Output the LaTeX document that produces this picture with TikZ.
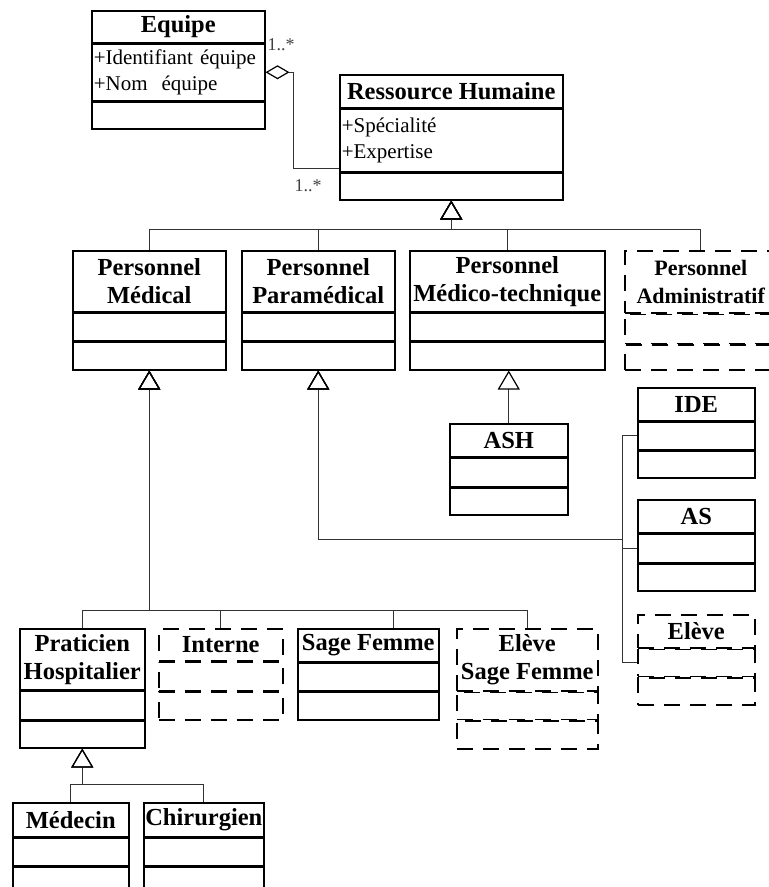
\documentclass[tikz,border=0pt]{standalone}
\usepackage{fontspec}
\setmainfont{Liberation Serif}
\usetikzlibrary{arrows.meta}

\begin{document}
\begin{tikzpicture}[
  x=1pt, y=-1pt,
  cls/.style={draw, line width=1.5pt, anchor=north west, inner sep=1.5pt,
              align=center, font=\fontsize{24.5}{28}\selectfont\bfseries},
  cmp/.style={draw, line width=1.5pt, anchor=north, inner sep=2pt,
              font=\fontsize{21}{26}\selectfont},
  dsh/.style={dash pattern=on 16pt off 10pt},
  inh/.style={line width=0.9pt, black!80,
              -{Triangle[open, length=19pt, width=22pt, line width=1.2pt, color=black]}},
  agg/.style={line width=0.9pt, black!80,
              {Diamond[open, length=24pt, width=14pt, line width=1.2pt, color=black]}-},
  mult/.style={font=\fontsize{18}{18}\selectfont, text=black!75, inner sep=0pt},
]
  \useasboundingbox (0,0) rectangle (769,887);
  \clip (0,0) rectangle (769,887);

  % Equipe
  \node[cls, minimum width=173pt, minimum height=32pt] (eq) at (91,10) {Equipe};
  \node[cmp, minimum width=173pt, minimum height=56pt, text width=169pt, align=left] (eq2) at (eq.south) {+Identifiant équipe\\+Nom\ \ équipe};
  \node[cmp, minimum width=173pt, minimum height=27pt] (eq3) at (eq2.south) {};

  % Ressource Humaine
  \node[cls, minimum width=223pt, minimum height=33pt] (rh) at (339,74) {Ressource Humaine};
  \node[cmp, minimum width=223pt, minimum height=62pt, text width=219pt, align=left] (rh2) at (rh.south) {+Spécialité\\+Expertise};
  \node[cmp, minimum width=223pt, minimum height=27pt] (rh3) at (rh2.south) {};

  % Personnel
  \node[cls, minimum width=153pt, minimum height=61pt] (pmed) at (72,250) {Personnel\\Médical};
  \node[cmp, minimum width=153pt, minimum height=27pt] (pmed2) at (pmed.south) {};
  \node[cmp, minimum width=153pt, minimum height=28pt] (pmed3) at (pmed2.south) {};

  \node[cls, minimum width=153pt, minimum height=61pt] (ppar) at (241,250) {Personnel\\Paramédical};
  \node[cmp, minimum width=153pt, minimum height=27pt] (ppar2) at (ppar.south) {};
  \node[cmp, minimum width=153pt, minimum height=28pt] (ppar3) at (ppar2.south) {};

  \node[cls, minimum width=195pt, minimum height=61pt] (pmt) at (409,250) {Personnel\\Médico-technique};
  \node[cmp, minimum width=195pt, minimum height=27pt] (pmt2) at (pmt.south) {};
  \node[cmp, minimum width=195pt, minimum height=28pt] (pmt3) at (pmt2.south) {};

  \node[cls, dsh, minimum width=152pt, minimum height=62pt,
        font=\fontsize{22}{28}\selectfont\bfseries] (padm) at (624,250) {Personnel\\Administratif};
  \node[cmp, dsh, minimum width=152pt, minimum height=29pt] (padm2) at (padm.south) {};
  \node[cmp, dsh, minimum width=152pt, minimum height=25pt] (padm3) at (padm2.south) {};

  % ASH
  \node[cls, minimum width=118pt, minimum height=33pt] (ash) at (449,423) {ASH};
  \node[cmp, minimum width=118pt, minimum height=28pt] (ash2) at (ash.south) {};
  \node[cmp, minimum width=118pt, minimum height=27pt] (ash3) at (ash2.south) {};

  % IDE, AS, Eleve
  \node[cls, minimum width=117pt, minimum height=33pt] (ide) at (637,387) {IDE};
  \node[cmp, minimum width=117pt, minimum height=27pt] (ide2) at (ide.south) {};
  \node[cmp, minimum width=117pt, minimum height=27pt] (ide3) at (ide2.south) {};

  \node[cls, minimum width=117pt, minimum height=33pt] (as) at (637,499) {AS};
  \node[cmp, minimum width=117pt, minimum height=28pt] (as2) at (as.south) {};
  \node[cmp, minimum width=117pt, minimum height=27pt] (as3) at (as2.south) {};

  \node[cls, dsh, minimum width=117pt, minimum height=33pt] (elv) at (637,614) {Elève};
  \node[cmp, dsh, minimum width=117pt, minimum height=27pt] (elv2) at (elv.south) {};
  \node[cmp, dsh, minimum width=117pt, minimum height=27pt] (elv3) at (elv2.south) {};

  % Medical staff
  \node[cls, minimum width=125pt, minimum height=61pt] (ph) at (19,628) {Praticien\\Hospitalier};
  \node[cmp, minimum width=125pt, minimum height=28pt] (ph2) at (ph.south) {};
  \node[cmp, minimum width=125pt, minimum height=27pt] (ph3) at (ph2.south) {};

  \node[cls, dsh, minimum width=124pt, minimum height=32pt] (int) at (158,628) {Interne};
  \node[cmp, dsh, minimum width=124pt, minimum height=28pt] (int2) at (int.south) {};
  \node[cmp, dsh, minimum width=124pt, minimum height=28pt] (int3) at (int2.south) {};

  \node[cls, minimum width=141pt, minimum height=33pt] (sf) at (297,628) {Sage Femme};
  \node[cmp, minimum width=141pt, minimum height=27pt] (sf2) at (sf.south) {};
  \node[cmp, minimum width=141pt, minimum height=28pt] (sf3) at (sf2.south) {};

  \node[cls, dsh, minimum width=141pt, minimum height=62pt] (esf) at (456,628) {Elève\\Sage Femme};
  \node[cmp, dsh, minimum width=141pt, minimum height=27pt] (esf2) at (esf.south) {};
  \node[cmp, dsh, minimum width=141pt, minimum height=28pt] (esf3) at (esf2.south) {};

  % Praticien
  \node[cls, minimum width=116pt, minimum height=34pt] (med) at (12,802) {Médecin};
  \node[cmp, minimum width=116pt, minimum height=27pt] (med2) at (med.south) {};
  \node[cmp, minimum width=116pt, minimum height=27pt] (med3) at (med2.south) {};

  \node[cls, minimum width=120pt, minimum height=34pt] (chir) at (143,802) {Chirurgien};
  \node[cmp, minimum width=120pt, minimum height=27pt] (chir2) at (chir.south) {};
  \node[cmp, minimum width=120pt, minimum height=27pt] (chir3) at (chir2.south) {};

  % Aggregation
  \draw[agg] (eq2.east) -- ++(28,0) |- ([yshift=4pt]rh2.south west);
  \node[mult] (m1) at (281,45) {1..*};
  \node[mult] (m2) at (308,186) {1..*};

  % Generalisations
  \draw[inh] (pmed.north) -- ++(0,-21) -| (rh3.south);
  \draw[inh] (ppar.north) -- ++(0,-21) -| (rh3.south);
  \draw[inh] (pmt.north) -- ++(0,-21) -| (rh3.south);
  \draw[inh] (padm.north) -- ++(0,-21) -| (rh3.south);

  \draw[inh] (ash.north) -- (ash.north |- pmt3.south);

  \coordinate (jn) at (622,539);
  \draw[inh] (ide2.west) -| (jn) -| (ppar3.south);
  \draw[inh] (as2.west) -| (jn) -| (ppar3.south);
  \draw[inh] (elv2.west) -| (jn) -| (ppar3.south);

  \draw[inh] (ph.north) -- ++(0,-18) -| (pmed3.south);
  \draw[inh] (int.north) -- ++(0,-18) -| (pmed3.south);
  \draw[inh] ([xshift=25pt]sf.north) -- ++(0,-18) -| (pmed3.south);
  \draw[inh] (esf.north) -- ++(0,-18) -| (pmed3.south);

  \draw[inh] (med.north) -- ++(0,-18) -| (ph3.south);
  \draw[inh] (chir.north) -- ++(0,-18) -| (ph3.south);
\end{tikzpicture}
\end{document}
